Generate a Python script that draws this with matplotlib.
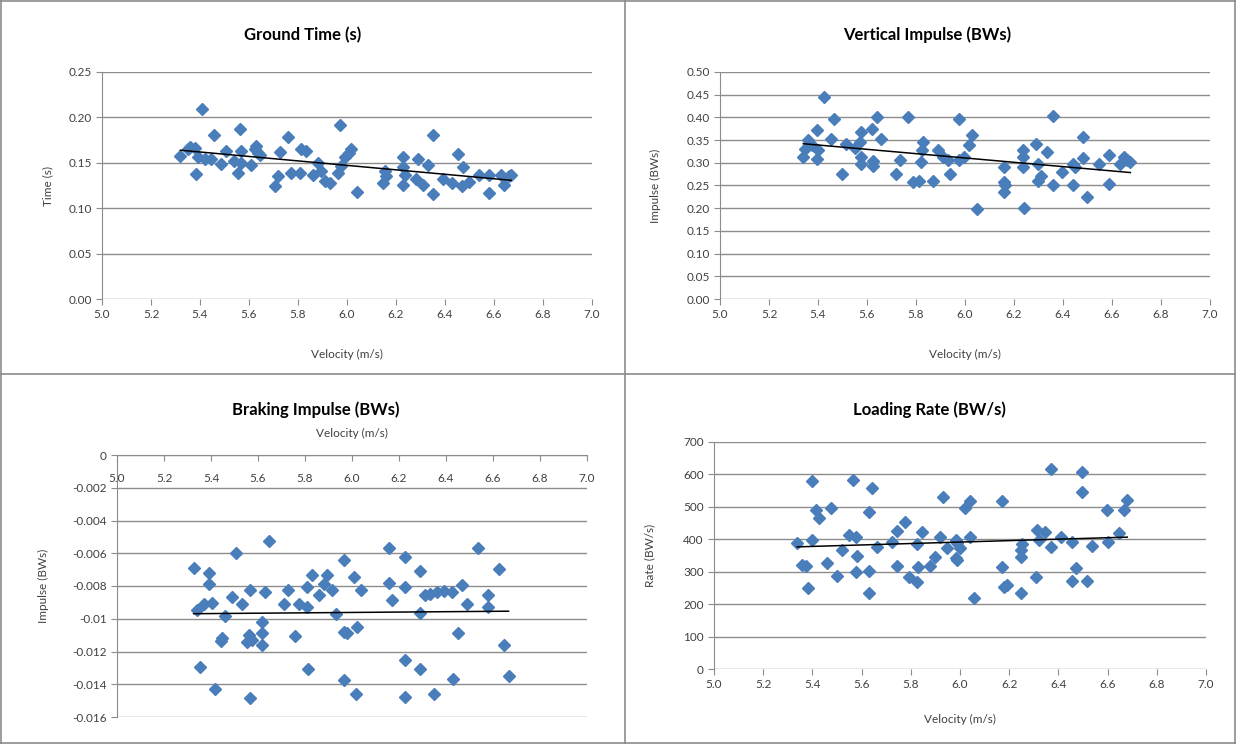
import numpy as np
import matplotlib
matplotlib.use('Agg')
import matplotlib.pyplot as plt
from matplotlib.lines import Line2D
from matplotlib.ticker import FormatStrFormatter, FuncFormatter

plt.rcParams['font.family'] = ['Lato', 'DejaVu Sans']

# Ground time (s) vs velocity (m/s)
gt_v = [5.32, 5.35, 5.36, 5.38, 5.41, 5.385, 5.39, 5.42, 5.457, 5.445, 5.486, 5.505, 5.562, 5.555,
        5.54, 5.566, 5.569, 5.61, 5.623, 5.637, 5.63, 5.644, 5.705, 5.718, 5.725, 5.759, 5.773,
        5.807, 5.813, 5.834, 5.861, 5.882, 5.895, 5.909, 5.929, 5.97, 5.963, 5.977, 5.99, 6.01,
        6.018, 6.04, 6.154, 6.147, 6.16, 6.229, 6.229, 6.229, 6.235, 6.29, 6.283, 6.31, 6.33,
        6.35, 6.35, 6.39, 6.43, 6.453, 6.473, 6.47, 6.50, 6.54, 6.58, 6.58, 6.63, 6.64, 6.66, 6.67]
gt_t = [0.157, 0.165, 0.167, 0.166, 0.209, 0.138, 0.156, 0.154, 0.181, 0.154, 0.149, 0.163, 0.187,
        0.139, 0.152, 0.163, 0.150, 0.148, 0.165, 0.161, 0.168, 0.159, 0.124, 0.135, 0.162, 0.178,
        0.139, 0.139, 0.165, 0.163, 0.137, 0.150, 0.141, 0.130, 0.128, 0.192, 0.139, 0.146, 0.156,
        0.161, 0.165, 0.118, 0.141, 0.128, 0.135, 0.156, 0.145, 0.126, 0.137, 0.154, 0.132, 0.126,
        0.148, 0.181, 0.116, 0.132, 0.128, 0.160, 0.145, 0.124, 0.129, 0.137, 0.137, 0.117, 0.137,
        0.126, 0.135, 0.137]

# Vertical impulse (BWs)
vi_v = [5.34, 5.347, 5.36, 5.374, 5.394, 5.394, 5.40, 5.426, 5.455, 5.466, 5.50, 5.516, 5.55, 5.57,
        5.574, 5.577, 5.577, 5.62, 5.624, 5.624, 5.642, 5.656, 5.72, 5.733, 5.767, 5.787, 5.814,
        5.82, 5.826, 5.83, 5.87, 5.89, 5.91, 5.93, 5.94, 5.977, 5.977, 5.997, 6.017, 6.03, 6.05,
        6.16, 6.16, 6.165, 6.16, 6.235, 6.235, 6.235, 6.24, 6.29, 6.30, 6.30, 6.31, 6.336, 6.36,
        6.36, 6.397, 6.44, 6.44, 6.45, 6.48, 6.48, 6.50, 6.546, 6.587, 6.587, 6.634, 6.65, 6.66, 6.675]
vi_imp = [0.313, 0.331, 0.350, 0.339, 0.372, 0.309, 0.328, 0.446, 0.353, 0.397, 0.276, 0.342, 0.333,
          0.346, 0.368, 0.313, 0.298, 0.375, 0.305, 0.292, 0.400, 0.352, 0.275, 0.306, 0.400, 0.258,
          0.261, 0.302, 0.328, 0.346, 0.260, 0.328, 0.313, 0.306, 0.276, 0.397, 0.306, 0.313, 0.339,
          0.361, 0.199, 0.291, 0.258, 0.250, 0.236, 0.328, 0.313, 0.291, 0.200, 0.342, 0.298, 0.261,
          0.272, 0.324, 0.402, 0.250, 0.280, 0.298, 0.250, 0.291, 0.357, 0.311, 0.225, 0.297, 0.317,
          0.254, 0.298, 0.313, 0.307, 0.302]

# Braking impulse (BWs)
bi_v = [5.326, 5.34, 5.369, 5.39, 5.39, 5.404, 5.447, 5.46, 5.49, 5.508, 5.53, 5.567, 5.645, 5.63,
        5.709, 5.728, 5.773, 5.81, 5.81, 5.83, 5.858, 5.894, 5.88, 5.915, 5.93, 5.964, 6.007, 6.04,
        6.156, 6.156, 6.17, 6.227, 6.227, 6.288, 6.288, 6.31, 6.333, 6.36, 6.39, 6.425, 6.468, 6.49,
        6.536, 6.577, 6.58, 6.624, 5.354, 5.415, 5.444, 5.567, 5.553, 5.563, 5.574, 5.617, 5.617,
        5.617, 5.759, 5.811, 5.967, 5.979, 6.021, 5.967, 6.018, 6.227, 6.227, 6.288, 6.347, 6.43,
        6.45, 6.645, 6.666]
bi_imp = [-0.00693, -0.00944, -0.00907, -0.0072, -0.00789, -0.00903, -0.0112, -0.00983, -0.00867,
          -0.00597, -0.00907, -0.00826, -0.00526, -0.00836, -0.00907, -0.00826, -0.00907, -0.00805,
          -0.00928, -0.00734, -0.00856, -0.00734, -0.00785, -0.00826, -0.00968, -0.00642, -0.00744,
          -0.00826, -0.00567, -0.00779, -0.00883, -0.00622, -0.00809, -0.0071, -0.00962, -0.00856,
          -0.0085, -0.00836, -0.0083, -0.00836, -0.00795, -0.00911, -0.00565, -0.00856, -0.00928,
          -0.00697, -0.01295, -0.01427, -0.01136, -0.01482, -0.01142, -0.01097, -0.01132, -0.0102,
          -0.0109, -0.01162, -0.01105, -0.01309, -0.01081, -0.0109, -0.0105, -0.01376, -0.01462,
          -0.01254, -0.01478, -0.01305, -0.01462, -0.01366, -0.01087, -0.01162, -0.01352]

# Loading rate (BW/s)
lr_v = [5.338, 5.358, 5.372, 5.399, 5.40, 5.383, 5.413, 5.426, 5.474, 5.46, 5.50, 5.52, 5.548, 5.564,
        5.579, 5.582, 5.579, 5.632, 5.63, 5.643, 5.632, 5.663, 5.724, 5.745, 5.745, 5.778, 5.792,
        5.826, 5.826, 5.828, 5.846, 5.88, 5.90, 5.918, 5.932, 5.948, 5.982, 5.989, 5.989, 5.982,
        6.002, 6.022, 6.04, 6.04, 6.056, 6.171, 6.171, 6.178, 6.19, 6.249, 6.249, 6.249, 6.253,
        6.307, 6.311, 6.32, 6.347, 6.368, 6.368, 6.409, 6.456, 6.456, 6.472, 6.494, 6.494, 6.517,
        6.537, 6.598, 6.602, 6.645, 6.666, 6.68]
lr_rate = [390, 321, 318, 580, 398, 251, 490, 465, 498, 326, 287, 367, 413, 583, 408, 349, 300, 302,
           485, 559, 233, 377, 393, 427, 318, 454, 283, 269, 386, 316, 423, 318, 346, 408, 531, 372,
           398, 336, 388, 341, 372, 496, 519, 408, 218, 518, 314, 254, 259, 233, 346, 367, 386, 285,
           429, 398, 423, 616, 377, 408, 393, 272, 312, 609, 547, 272, 379, 490, 393, 419, 490, 521]

W, H = 1236, 744
fig = plt.figure(figsize=(12.36, 7.44), dpi=100)

GRID = '#8c8c8c'
TXT = '#404040'
BLUE = '#4a7ebb'


def px_axes(x0, y0, x1, y1):
    # pixel box (left, top, right, bottom) -> figure fraction
    return fig.add_axes([x0 / W, 1 - y1 / H, (x1 - x0) / W, (y1 - y0) / H])


def style(ax, x, y, ylim, ystep, yfmt, ylabel, xlabel_y, ylabel_x, top_axis=False):
    ax.plot(x, y, 'D', ms=6.5, color=BLUE, mec=BLUE, zorder=3)
    k, b = np.polyfit(x, y, 1)
    xs = np.array([min(x), max(x)])
    ax.plot(xs, k * xs + b, color='black', lw=1.1, zorder=4)

    ax.set_xlim(5.0, 7.0)
    ax.set_ylim(*ylim)
    ax.set_xticks(np.arange(5.0, 7.01, 0.2))
    ax.xaxis.set_major_formatter(FormatStrFormatter('%.1f'))
    ax.set_yticks(np.arange(ylim[0], ylim[1] + ystep / 2, ystep))
    ax.yaxis.set_major_formatter(yfmt)
    ax.grid(axis='y', color=GRID, lw=1.0)
    ax.set_axisbelow(True)
    for s in ['right', 'top', 'bottom']:
        ax.spines[s].set_visible(False)
    ax.spines['left'].set_color(GRID)
    ax.tick_params(axis='y', colors=GRID, labelcolor=TXT, labelsize=8.5, length=4, direction='out')
    ax.tick_params(axis='x', colors=GRID, labelcolor=TXT, labelsize=8.5, length=4)
    if top_axis:
        ax.xaxis.set_ticks_position('top')
        ax.tick_params(axis='x', direction='in', pad=-21)
        ax.xaxis.set_label_position('top')
    else:
        ax.tick_params(axis='x', direction='out')
    ax.set_xlabel('Velocity (m/s)', fontsize=8.5, color=TXT)
    ax.set_ylabel(ylabel, fontsize=8.5, color=TXT)
    ax.xaxis.set_label_coords(0.5, xlabel_y)
    ax.yaxis.set_label_coords(ylabel_x, 0.5)


ax1 = px_axes(102, 72, 592, 299)
style(ax1, gt_v, gt_t, (0, 0.25), 0.05, FormatStrFormatter('%.2f'), 'Time (s)', -0.22, -0.1)

ax2 = px_axes(720, 72, 1210, 299)
style(ax2, vi_v, vi_imp, (0, 0.50), 0.05, FormatStrFormatter('%.2f'), 'Impulse (BWs)', -0.22, -0.12)

ax3 = px_axes(117, 455, 587, 717)
style(ax3, bi_v, bi_imp, (-0.016, 0), 0.002,
      FuncFormatter(lambda v, p: '0' if abs(v) < 1e-9 else ('%g' % round(v, 3))),
      'Impulse (BWs)', 1.07, -0.145, top_axis=True)
ax3.spines['top'].set_visible(True)
ax3.spines['top'].set_color(GRID)

ax4 = px_axes(714, 442, 1206, 669)
style(ax4, lr_v, lr_rate, (0, 700), 100, FormatStrFormatter('%d'), 'Rate (BW/s)', -0.2, -0.12)

titles = [('Ground Time (s)', 303, 35), ('Vertical Impulse (BWs)', 927, 35),
          ('Braking Impulse (BWs)', 316, 410), ('Loading Rate (BW/s)', 929, 410)]
for t, tx, ty in titles:
    fig.text(tx / W, 1 - ty / H, t, ha='center', va='center', fontsize=12, fontweight='bold', color='black')

# panel frames
frame = '#8c8c8c'
for xs_, ys_ in [([1, 1], [0, H]), ([W - 1, W - 1], [0, H]), ([0, W], [1, 1]), ([0, W], [H - 1, H - 1]),
                 ([625, 625], [0, H]), ([0, W], [374, 374])]:
    fig.add_artist(Line2D([x / W for x in xs_], [1 - y / H for y in ys_], color=frame, lw=1.2))

fig.savefig('out.png', dpi=100)
